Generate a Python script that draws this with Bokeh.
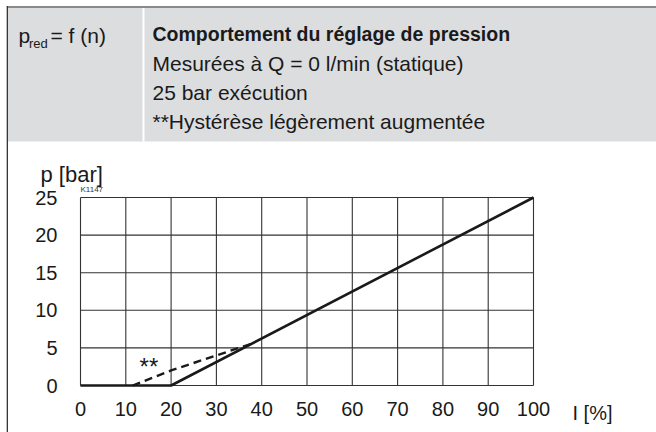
from bokeh.plotting import figure
from bokeh.models import Label, BoxAnnotation, FixedTicker, Range1d, LinearAxis
from bokeh.embed import file_html
from bokeh.resources import INLINE

# ---- data ----
current_pct = [0, 20, 100]          # I [%]
pressure_bar = [0, 0, 25]           # p [bar]
hyst_current = [11.5, 20, 30, 38]   # dashed (hysteresis) curve
hyst_pressure = [0, 2.0, 4.0, 5.6]
x_ticks = [0, 10, 20, 30, 40, 50, 60, 70, 80, 90, 100]
y_ticks = [0, 5, 10, 15, 20, 25]

header_left = "p"
header_left_sub = "red"
header_left_rest = "= f (n)"
header_title = "Comportement du réglage de pression"
header_lines = ["Mesurées à Q = 0 l/min (statique)",
                "25 bar exécution",
                "**Hystérèse légèrement augmentée"]

FONT = "Liberation Sans"
INK = "#1a1a1a"
W, H = 656, 432

# pixel geometry of the grid area on the canvas (layout only)
PL, PR, PT, PB = 80, 533, 197, 385
XMIN, XMAX = min(x_ticks), max(x_ticks)
YMIN, YMAX = min(y_ticks), max(y_ticks)
sx = (XMAX - XMIN) / (PR - PL)
sy = (YMAX - YMIN) / (PB - PT)


def X(px):
    return XMIN + (px - PL) * sx


def Y(py):
    return YMIN + (PB - py) * sy


p = figure(width=W, height=H, output_backend="svg", toolbar_location=None,
           x_range=Range1d(X(0), X(W)), y_range=Range1d(Y(H), Y(0)),
           x_axis_location=None, y_axis_location=None,
           min_border=0, min_border_left=0, min_border_right=0,
           min_border_top=0, min_border_bottom=0)
p.background_fill_color = "white"
p.border_fill_color = "white"
p.outline_line_color = None
for g in p.grid:
    g.visible = False

# ---- grid drawn from the tick arrays ----
p.segment(x0=x_ticks, y0=[YMIN] * len(x_ticks), x1=x_ticks, y1=[YMAX] * len(x_ticks),
          line_color="#333333", line_width=1.1)
p.segment(x0=[XMIN] * len(y_ticks), y0=y_ticks, x1=[XMAX] * len(y_ticks), y1=y_ticks,
          line_color="#333333", line_width=1.1)

# ---- axes (labels only) fixed on the grid origin ----
xax = LinearAxis(fixed_location=YMIN, ticker=FixedTicker(ticks=x_ticks))
yax = LinearAxis(fixed_location=XMIN, ticker=FixedTicker(ticks=y_ticks))
for ax in (xax, yax):
    ax.axis_line_color = None
    ax.major_tick_line_color = None
    ax.minor_tick_line_color = None
    ax.major_label_text_font = FONT
    ax.major_label_text_font_size = "20px"
    ax.major_label_text_color = INK
xax.major_label_standoff = 10
yax.major_label_standoff = 17
p.add_layout(xax, "below")
p.add_layout(yax, "left")

# ---- curves ----
p.line(current_pct, pressure_bar, line_width=2.6, line_color=INK)
p.line(hyst_current, hyst_pressure, line_width=2.4, line_color=INK, line_dash="8 5")

p.add_layout(Label(x=15.1, y=2.5, text="**", text_align="center",
                   text_baseline="alphabetic", text_font=FONT,
                   text_font_size="24px", text_color=INK))

# ---- header box and frame lines ----
def box(l, r, t, b, color):
    p.add_layout(BoxAnnotation(left=X(l), right=X(r), top=Y(t), bottom=Y(b),
                               fill_color=color, fill_alpha=1, line_color=None,
                               level="underlay"))


box(7, W, 7, 141, "#dcdddf")
box(7, W, 5.5, 7.5, "#8a8a8a")
box(142, 144, 7.5, 141, "#ffffff")
box(6.2, 7.4, 5.5, H, "#222222")


def lab(px, py, text, size, bold=False, color=INK):
    p.add_layout(Label(x=X(px), y=Y(py), text=text,
                       text_font=FONT, text_font_size=size,
                       text_font_style="bold" if bold else "normal",
                       text_color=color, text_align="left",
                       text_baseline="alphabetic"))


lab(18, 35, header_left, "21px")
lab(28.5, 43, header_left_sub, "13px")
lab(50, 35, header_left_rest, "21px")
lab(152, 33.5, header_title, "19.5px", bold=True)
for i, t in enumerate(header_lines):
    lab(152, 62.5 + 29 * i, t, "21px")

lab(40, 174, "p [bar]", "22px")
lab(80, 189, "K1147", "8px", color="#333333")
lab(572, 412, "I [%]", "20px")

open("out.html", "w").write(file_html(p, INLINE))
